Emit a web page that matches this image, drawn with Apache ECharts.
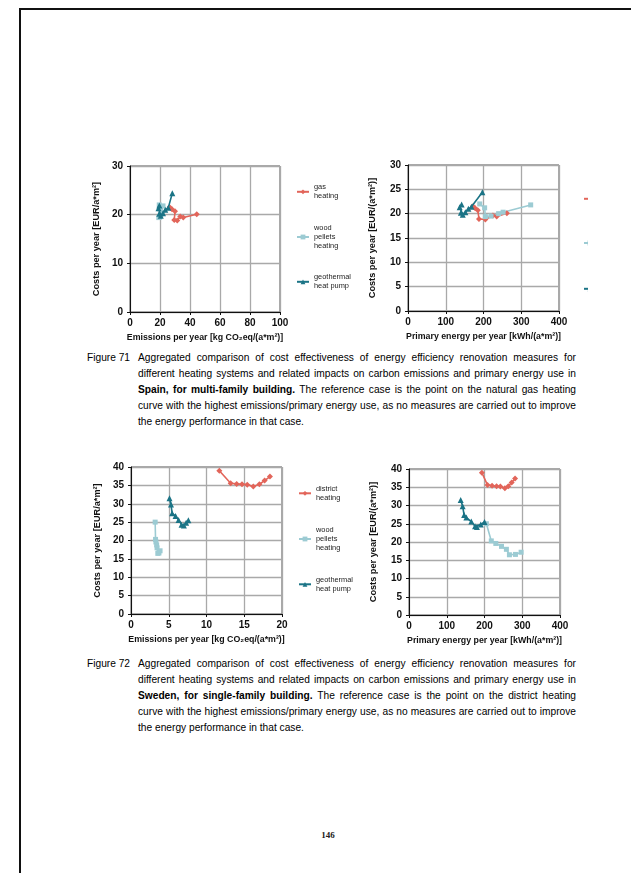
<!DOCTYPE html>
<html>
<head>
<meta charset="utf-8">
<script src="https://cdn.jsdelivr.net/npm/echarts@6/dist/echarts.min.js"></script>
<style>
  html, body { margin: 0; padding: 0; background: #fff; }
  body { width: 631px; height: 873px; overflow: hidden; position: relative; font-family: "Liberation Sans", Arial, sans-serif; }
  #frame { position: absolute; left: 19px; top: 8px; width: 700px; height: 1000px; border: 2px solid #111; box-sizing: border-box; }
  .chart { position: absolute; }
  .cap { position: absolute; left: 87px; width: 490px; font-size: 10.2px; line-height: 16px; color: #000; }
  .cap .lab { position: absolute; left: 0; top: 0; }
  .cap .ln { margin-left: 51px; width: 438px; text-align: justify; text-align-last: justify; }
  .cap .ln.last { text-align-last: left; }
  .cap b { font-weight: bold; }
  #pageno { position: absolute; left: 300px; width: 56px; top: 830px; text-align: center; font-family: "Liberation Serif", "DejaVu Serif", serif; font-size: 9px; font-weight: bold; color: #222; }
</style>
</head>
<body>
<div id="frame"></div>
<div id="c1" class="chart" style="left:80px;top:150px;width:280px;height:200px"></div>
<div id="c2" class="chart" style="left:360px;top:150px;width:228px;height:200px"></div>
<div id="c3" class="chart" style="left:80px;top:450px;width:280px;height:200px"></div>
<div id="c4" class="chart" style="left:360px;top:450px;width:228px;height:200px"></div>

<div class="cap" style="top:350px">
  <div class="lab">Figure 71</div>
  <div class="ln">Aggregated comparison of cost effectiveness of energy efficiency renovation measures for</div>
  <div class="ln">different heating systems and related impacts on carbon emissions and primary energy use in</div>
  <div class="ln"><b>Spain, for multi-family building.</b> The reference case is the point on the natural gas heating</div>
  <div class="ln">curve with the highest emissions/primary energy use, as no measures are carried out to improve</div>
  <div class="ln last">the energy performance in that case.</div>
</div>
<div class="cap" style="top:656px">
  <div class="lab">Figure 72</div>
  <div class="ln">Aggregated comparison of cost effectiveness of energy efficiency renovation measures for</div>
  <div class="ln">different heating systems and related impacts on carbon emissions and primary energy use in</div>
  <div class="ln"><b>Sweden, for single-family building.</b> The reference case is the point on the district heating</div>
  <div class="ln">curve with the highest emissions/primary energy use, as no measures are carried out to improve</div>
  <div class="ln last">the energy performance in that case.</div>
</div>
<div id="pageno">146</div>

<script>
// ---- Spain, multi-family building ----
const esGasCost   = [20.1, 19.4, 19.6, 18.8, 18.9, 20.7, 21.1, 21.5];
const esGasEmis   = [44.5, 35.5, 33.5, 31.5, 29.5, 30.0, 28.0, 26.5];
const esGasPrim   = [262, 235, 225, 205, 188, 185, 178, 172];

const esWoodCost  = [21.8, 20.3, 20.0, 19.5, 19.4, 21.2, 22.0];
const esWoodEmis  = [22.0, 21.0, 20.5, 19.8, 19.2, 19.8, 19.5];
const esWoodPrim  = [325, 252, 240, 220, 205, 203, 190];

const esGeoCost   = [24.4, 21.4, 21.0, 20.3, 19.8, 20.2, 21.3, 21.9];
const esGeoEmis   = [28.2, 25.5, 23.5, 22.0, 20.5, 19.5, 19.0, 19.6];
const esGeoPrim   = [197, 168, 160, 152, 145, 140, 137, 142];

// ---- Sweden, single-family building ----
const seDistCost  = [39.0, 35.6, 35.4, 35.3, 35.2, 34.7, 35.3, 36.3, 37.4];
const seDistEmis  = [11.7, 13.2, 14.0, 14.7, 15.4, 16.2, 17.0, 17.7, 18.4];
const seDistPrim  = [193, 208, 220, 232, 242, 254, 263, 272, 281];

const seWoodCost  = [25.0, 20.3, 19.6, 18.8, 18.0, 16.5, 16.6, 17.2];
const seWoodEmis  = [3.2, 3.25, 3.3, 3.4, 3.45, 3.55, 3.7, 3.85];
const seWoodPrim  = [205, 218, 230, 245, 258, 266, 282, 297];

const seGeoCost   = [31.5, 29.8, 27.4, 26.7, 25.6, 24.3, 24.1, 24.8, 25.5];
const seGeoEmis   = [5.1, 5.3, 5.45, 5.9, 6.3, 6.7, 7.0, 7.3, 7.6];
const seGeoPrim   = [137, 142, 146, 152, 165, 175, 180, 190, 200];

// axis ranges and tick steps
const esEmisAxis = { min: 0, max: 100, interval: 20 };
const esPrimAxis = { min: 0, max: 400, interval: 100 };
const esCostAxisL = { min: 0, max: 30, interval: 10 };
const esCostAxisR = { min: 0, max: 30, interval: 5 };
const seEmisAxis = { min: 0, max: 20, interval: 5 };
const sePrimAxis = { min: 0, max: 400, interval: 100 };
const seCostAxis = { min: 0, max: 40, interval: 5 };

const emisTitle = 'Emissions per year [kg CO\u2082eq/(a*m\u00b2)]';
const primTitle = 'Primary energy per year [kWh/(a*m\u00b2)]';
const costTitleL = 'Costs per year [EUR/a*m\u00b2]';
const costTitleR = 'Costs per year [EUR/(a*m\u00b2)]';

const RED = '#e2655a', LIGHT = '#9ccbd3', TEAL = '#1b7486';
const FONT = '"Liberation Sans", Arial, sans-serif';

const legendText = {
  'gas heating': 'gas\nheating',
  'district heating': 'district\nheating',
  'wood pellets heating': 'wood\npellets\nheating',
  'geothermal heat pump': 'geothermal\nheat pump'
};

function pairs(xs, ys) { return xs.map((x, i) => [x, ys[i]]); }

function lineSeries(name, color, symbol, size, data) {
  return {
    name, type: 'line', data, symbol, symbolSize: size,
    lineStyle: { color, width: 1.6 }, itemStyle: { color },
    showSymbol: true, animation: false, z: symbol === 'triangle' ? 4 : 3
  };
}

// one legend block per system so each label keeps its own vertical slot
function legendItem(name, left, top) {
  const lines = legendText[name].split('\n').length;
  const lh = 9.2;
  return {
    left, top, orient: 'vertical', padding: 0,
    itemWidth: 12, itemHeight: 6, itemGap: 0,
    selectedMode: false,
    data: [{ name, textStyle: { padding: [(lines - 1) * lh, 0, 0, 0] } }],
    formatter: n => legendText[n],
    textStyle: { fontFamily: FONT, fontSize: 7.4, lineHeight: lh, color: '#222', padding: [0, 0, 0, 0] }
  };
}

function axisBase(range, name, nameGap, nameSize) {
  return Object.assign({
    type: 'value', name, nameLocation: 'middle', nameGap,
    nameTextStyle: { fontFamily: FONT, fontSize: nameSize, fontWeight: 'bold', color: '#111' },
    axisLine: { show: true, lineStyle: { color: '#111', width: 1 } },
    axisTick: { show: true, length: 3, lineStyle: { color: '#111' } },
    axisLabel: { fontFamily: FONT, fontSize: 10, fontWeight: 'bold', color: '#111', margin: 6 },
    splitLine: { show: true, lineStyle: { color: '#a9a9a9', width: 1.3 } }
  }, range);
}

function build(id, grid, xRange, xName, xGap, yRange, yName, yGap, series, legends) {
  const chart = echarts.init(document.getElementById(id), null, { renderer: 'canvas' });
  chart.setOption({
    animation: false,
    grid: Object.assign({ show: true, borderColor: '#555', borderWidth: 1, containLabel: false }, grid),
    xAxis: axisBase(xRange, xName, xGap, 8.8),
    yAxis: Object.assign(axisBase(yRange, yName, yGap, 9.2), { axisLabel: { fontFamily: FONT, fontSize: 10, fontWeight: 'bold', color: '#111', margin: 7 } }),
    legend: legends,
    series
  });
}

// Figure 71, left: emissions
build('c1', { left: 50, top: 16, width: 150, height: 146 },
  esEmisAxis, emisTitle, 19, esCostAxisL, costTitleL, 28,
  [
    lineSeries('gas heating', RED, 'diamond', 6, pairs(esGasEmis, esGasCost)),
    lineSeries('wood pellets heating', LIGHT, 'rect', 5, pairs(esWoodEmis, esWoodCost)),
    lineSeries('geothermal heat pump', TEAL, 'triangle', 6, pairs(esGeoEmis, esGeoCost))
  ],
  [legendItem('gas heating', 216, 28), legendItem('wood pellets heating', 216, 64), legendItem('geothermal heat pump', 216, 118)]
);

// Figure 71, right: primary energy
build('c2', { left: 48, top: 15, width: 151, height: 146 },
  esPrimAxis, primTitle, 19, esCostAxisR, costTitleR, 31,
  [
    lineSeries('gas heating', RED, 'diamond', 6, pairs(esGasPrim, esGasCost)),
    lineSeries('wood pellets heating', LIGHT, 'rect', 5, pairs(esWoodPrim, esWoodCost)),
    lineSeries('geothermal heat pump', TEAL, 'triangle', 6, pairs(esGeoPrim, esGeoCost))
  ],
  [legendItem('gas heating', 223, 35), legendItem('wood pellets heating', 223, 70), legendItem('geothermal heat pump', 223, 125)]
);

// Figure 72, left: emissions
build('c3', { left: 51, top: 17, width: 151, height: 147 },
  seEmisAxis, emisTitle, 19, seCostAxis, costTitleL, 29,
  [
    lineSeries('district heating', RED, 'diamond', 6, pairs(seDistEmis, seDistCost)),
    lineSeries('wood pellets heating', LIGHT, 'rect', 5, pairs(seWoodEmis, seWoodCost)),
    lineSeries('geothermal heat pump', TEAL, 'triangle', 6, pairs(seGeoEmis, seGeoCost))
  ],
  [legendItem('district heating', 218, 29.5), legendItem('wood pellets heating', 218, 66), legendItem('geothermal heat pump', 218, 120.5)]
);

// Figure 72, right: primary energy
build('c4', { left: 49, top: 19, width: 151, height: 146 },
  sePrimAxis, primTitle, 19, seCostAxis, costTitleR, 31,
  [
    lineSeries('district heating', RED, 'diamond', 6, pairs(seDistPrim, seDistCost)),
    lineSeries('wood pellets heating', LIGHT, 'rect', 5, pairs(seWoodPrim, seWoodCost)),
    lineSeries('geothermal heat pump', TEAL, 'triangle', 6, pairs(seGeoPrim, seGeoCost))
  ],
  [{ show: false }]
);
</script>
</body>
</html>
